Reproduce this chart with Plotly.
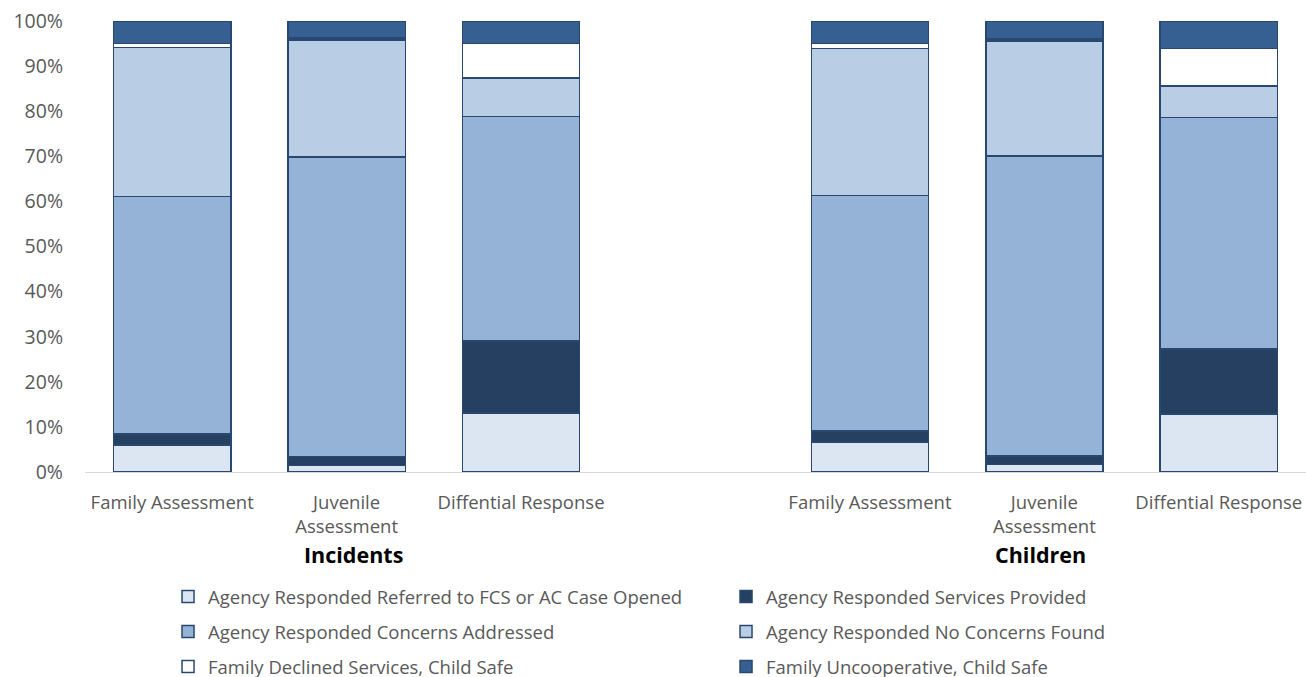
import plotly.graph_objects as go

# ---- data (percent of total) ----
groups = ["Incidents", "Children"]
categories = ["Family Assessment", "Juvenile Assessment", "Diffential Response"]
tick_labels = ["Family Assessment", "Juvenile<br>Assessment", "Diffential Response"]

series_names = [
    "Agency Responded Referred to FCS or AC Case Opened",
    "Agency Responded Services Provided",
    "Agency Responded Concerns Addressed",
    "Agency Responded No Concerns Found",
    "Family Declined Services, Child Safe",
    "Family Uncooperative, Child Safe",
]

# values per series: Incidents (FA, JA, DR), Children (FA, JA, DR)
referred_fcs = [6.0, 1.4, 13.1, 6.6, 1.7, 12.9]
services_provided = [2.4, 2.0, 15.9, 2.5, 1.9, 14.4]
concerns_addressed = [52.7, 66.5, 49.8, 52.2, 66.5, 51.3]
no_concerns_found = [33.0, 25.9, 8.6, 32.6, 25.5, 7.0]
declined_services = [0.9, 0.4, 7.6, 1.1, 0.4, 8.3]
uncooperative = [5.0, 3.8, 5.0, 5.0, 4.0, 6.1]

series_values = [referred_fcs, services_provided, concerns_addressed,
                 no_concerns_found, declined_services, uncooperative]
colors = ["#DCE6F2", "#254061", "#95B3D7", "#B9CDE5", "#FFFFFF", "#376092"]
legend_ids = ["legend", "legend", "legend2", "legend2", "legend3", "legend3"]

# category keys (unique), with a blank spacer between groups
x_keys = [f"{g}|{c}" for g in groups for c in categories]
spacer = " "
cat_array = x_keys[:3] + [spacer] + x_keys[3:]
tick_text = tick_labels + [""] + tick_labels

fig = go.Figure()
for name, vals, col, lg in zip(series_names, series_values, colors, legend_ids):
    fig.add_trace(go.Bar(
        x=x_keys,
        y=[v / 100 for v in vals],
        name=name,
        marker=dict(color=col, line=dict(color="#284870", width=1.5)),
        legend=lg,
    ))

font_family = "Open Sans"
gray = "#595959"

legend_common = dict(
    orientation="h",
    xanchor="left",
    x=0.068,
    yanchor="middle",
    entrywidth=513,
    traceorder="normal",
    font=dict(family=font_family, size=18.5, color=gray),
    bgcolor="rgba(0,0,0,0)",
)

fig.update_layout(
    width=1306,
    height=677,
    barmode="stack",
    bargap=0.328,
    plot_bgcolor="white",
    paper_bgcolor="white",
    margin=dict(l=85, r=0, t=21, b=205, autoexpand=False),
    font=dict(family=font_family, color=gray),
    xaxis=dict(
        type="category",
        categoryorder="array",
        categoryarray=cat_array,
        tickvals=cat_array,
        ticktext=tick_text,
        range=[-0.5, 6.5],
        showline=True,
        linecolor="#D9D9D9",
        linewidth=1,
        showgrid=False,
        ticks="",
        ticklabelstandoff=14,
        ticklabeloverflow="allow",
        tickfont=dict(family=font_family, size=18.5, color=gray),
        tickangle=0,
        automargin=False,
    ),
    yaxis=dict(
        range=[0, 1],
        dtick=0.1,
        tickformat=".0%",
        showgrid=False,
        zeroline=False,
        showline=False,
        ticks="",
        ticklabelstandoff=21,
        ticklabeloverflow="allow",
        tickfont=dict(family=font_family, size=19.5, color=gray),
        automargin=False,
    ),
    legend=dict(legend_common, y=-0.2772),
    legend2=dict(legend_common, y=-0.3548),
    legend3=dict(legend_common, y=-0.4324),
    showlegend=True,
)

group_x = [1.04, 4.98]
for g, gx in zip(groups, group_x):
    fig.add_annotation(
        x=gx, xref="x", y=-0.184, yref="paper",
        text=f"<b>{g}</b>", showarrow=False,
        xanchor="center", yanchor="middle",
        font=dict(family=font_family, size=21.5, color="black"),
    )

# remove the page's default body margin so the figure fills the window exactly
fig.write_html(
    "out.html",
    config={"displayModeBar": False},
    post_script="document.body.style.margin='0';document.body.style.overflow='hidden';",
)
